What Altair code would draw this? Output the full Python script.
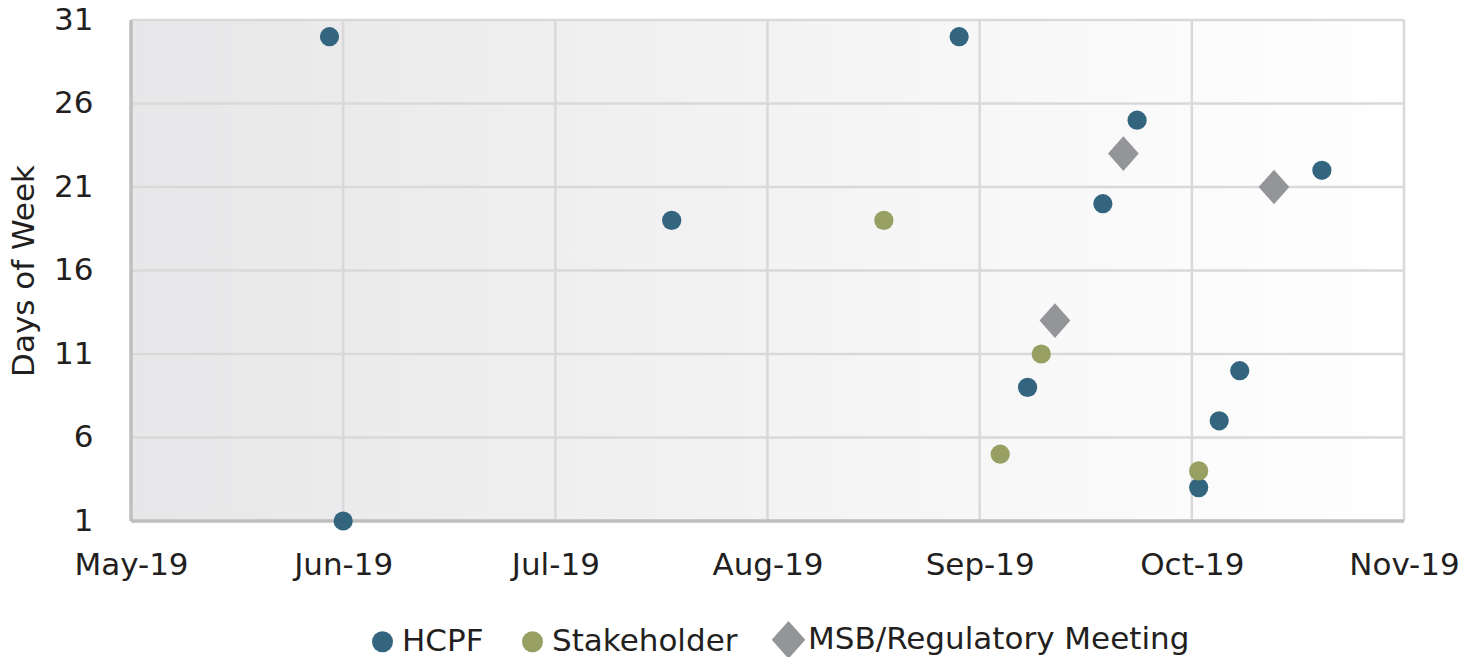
import altair as alt
import pandas as pd

# ---- data ----
hcpf_dates = ["2019-05-30", "2019-06-01", "2019-07-19", "2019-08-30", "2019-09-09",
              "2019-09-20", "2019-09-25", "2019-10-04", "2019-10-07", "2019-10-10", "2019-10-22"]
hcpf_days = [30, 1, 19, 30, 9, 20, 25, 3, 7, 10, 22]

stake_dates = ["2019-08-19", "2019-09-05", "2019-09-11", "2019-10-04"]
stake_days = [19, 5, 11, 4]

msb_dates = ["2019-09-13", "2019-09-23", "2019-10-15"]
msb_days = [13, 23, 21]

series = ["HCPF", "Stakeholder", "MSB/Regulatory Meeting"]
colors = ["#33657f", "#97a062", "#939598"]
shapes = ["circle", "circle", "M-1.6,0L0,-1.8L1.6,0L0,1.8Z"]

y_ticks = [1, 6, 11, 16, 21, 26, 31]
x_ticks = ["2019-05-01", "2019-06-01", "2019-07-02", "2019-08-02",
           "2019-09-02", "2019-10-03", "2019-11-03"]

rows = []
for name, dates, days in [(series[0], hcpf_dates, hcpf_days),
                          (series[1], stake_dates, stake_days),
                          (series[2], msb_dates, msb_days)]:
    for d, v in zip(dates, days):
        rows.append({"date": d, "day": v, "type": name})
df = pd.DataFrame(rows)

xgrid_df = pd.DataFrame({"date": x_ticks})
ygrid_df = pd.DataFrame({"day": y_ticks})
xbase_df = pd.DataFrame({"date": x_ticks[:1]})
ybase_df = pd.DataFrame({"day": y_ticks[:1]})

FONT = "DejaVu Sans, Noto Sans, sans-serif"
W, H = 1273, 501


def dt(s):
    y, m, d = map(int, s.split("-"))
    return alt.DateTime(year=y, month=m, date=d, utc=True)


X = alt.X("date:T",
          scale=alt.Scale(type="utc", domain=[dt(x_ticks[0]), dt(x_ticks[-1])], nice=False),
          axis=alt.Axis(values=[dt(t) for t in x_ticks], format="%b-%y", title=None,
                        ticks=False, grid=False, domain=False, labelPadding=29,
                        labelFontSize=31, labelFlush=False))
Y = alt.Y("day:Q",
          scale=alt.Scale(domain=[1, 31], nice=False, zero=False),
          axis=alt.Axis(values=y_ticks, title="Days of Week", ticks=False, grid=False,
                        domain=False, labelPadding=38, labelFontSize=31, titleFontSize=31,
                        titleFontWeight="normal", titlePadding=13))

bg = alt.Chart(pd.DataFrame({"a": [0]})).mark_rect(
    color=alt.LinearGradient(gradient="linear", x1=0, x2=1, y1=0, y2=0,
                             stops=[alt.GradientStop(color="#e7e7e9", offset=0),
                                    alt.GradientStop(color="#ffffff", offset=1)])
).encode(x=alt.value(0), x2=alt.value(W), y=alt.value(0), y2=alt.value(H))

xgrid = alt.Chart(xgrid_df).mark_rule(color="#d9d9d9", strokeWidth=2.5).encode(x=X)
ygrid = alt.Chart(ygrid_df).mark_rule(color="#d9d9d9", strokeWidth=2.5).encode(y=Y)
xbase = alt.Chart(xbase_df).mark_rule(color="#bfbfbf", strokeWidth=3.5).encode(x=X)
ybase = alt.Chart(ybase_df).mark_rule(color="#bfbfbf", strokeWidth=3.5).encode(y=Y)

points = alt.Chart(df).mark_point(filled=True, opacity=1, size=370).encode(
    x=X, y=Y,
    color=alt.Color("type:N", scale=alt.Scale(domain=series, range=colors),
                    legend=alt.Legend(title=None, orient="none", direction="horizontal",
                                      legendX=236, legendY=604, labelFontSize=31,
                                      labelLimit=0, symbolSize=440,
                                      columnPadding=33, labelOffset=4, padding=0)),
    shape=alt.Shape("type:N", scale=alt.Scale(domain=series, range=shapes)),
)

chart = alt.layer(bg, xgrid, ygrid, xbase, ybase, points).properties(
    width=W, height=H,
    autosize=alt.AutoSizeParams(type="none"),
    padding={"left": 123, "top": 12, "right": 61, "bottom": 136},
).configure(font=FONT).configure_axis(
    labelColor="#231f20", titleColor="#231f20", labelFont=FONT, titleFont=FONT,
).configure_legend(
    labelFont=FONT, labelColor="#231f20",
).configure_view(stroke=None)

chart.save("out.html", embed_options={"renderer": "svg", "actions": False})
